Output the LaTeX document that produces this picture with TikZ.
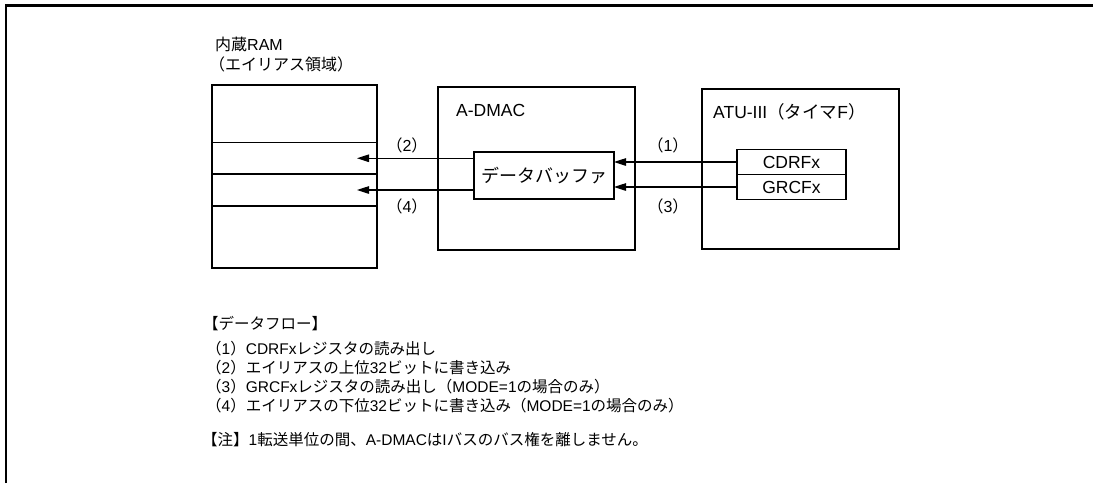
\documentclass[tikz,border=0pt]{standalone}
\usepackage{fontspec}
\setmainfont{Liberation Sans}
\newfontfamily\jpfont{Noto Sans CJK JP}
\newcommand\jp[1]{{\jpfont #1}}
\usetikzlibrary{positioning,arrows.meta}
\tikzset{
  >={Triangle[length=12pt,width=7.5pt]},
  block/.style={draw,line width=2.4pt,inner sep=0pt,outer sep=0pt},
  cell/.style={draw,line width=1.8pt,minimum width=165pt,inner sep=0pt,outer sep=0pt},
  inbox/.style={draw,line width=1.2pt,inner sep=0pt,outer sep=0pt},
  reg/.style={inbox,minimum width=109pt,minimum height=25pt,font=\fontsize{17.5}{17.5}\selectfont},
  flow/.style={->,line width=1.1pt},
  boxlbl/.style={inner sep=0pt,font=\fontsize{17.5}{17.5}\selectfont},
  numlbl/.style={inner sep=0pt,font=\fontsize{16}{16}\selectfont},
  txt/.style={inner sep=0pt,anchor=west,font=\fontsize{15.5}{15.5}\selectfont},
}

\begin{document}
\begin{tikzpicture}[x=1pt,y=-1pt]
  \useasboundingbox (0,0) rectangle (1093,483);
  \draw[line width=2.5pt] (6,483) -- (6,5.3) -- (1093,5.3);

  % RAM (alias area)
  \node[txt,font=\fontsize{16}{16}\selectfont] (ramname) at (215,44) {\jp{内蔵}RAM};
  \node[txt,font=\fontsize{16}{16}\selectfont] (ramsub)  at (209,64) {\jp{（エイリアス領域）}};
  \node[cell,minimum height=57.5pt,anchor=north west] (ramtop) at (212,85) {};
  \node[cell,minimum height=31.5pt,below=0pt of ramtop] (ramhi) {};
  \node[cell,minimum height=32pt,below=0pt of ramhi]    (ramlo) {};
  \node[cell,minimum height=62pt,below=0pt of ramlo]    (rambot) {};
  \draw[line width=2.4pt] (ramtop.north west) rectangle (rambot.south east);

  % A-DMAC
  \node[block,minimum width=197pt,minimum height=163pt] (dmac) at (536.5,168.5) {};
  \node[boxlbl,anchor=west] (dmacname) at (456,110) {A-DMAC};
  \node[inbox,minimum width=140pt,minimum height=47pt,
        font=\fontsize{18}{18}\selectfont] (buf) at (544,175.5) {\jp{データバッファ}};

  % ATU-III
  \node[block,minimum width=197pt,minimum height=160pt] (atu) at (800.5,169) {};
  \node[boxlbl,anchor=west] (atuname) at (713,112) {ATU-III\jp{（タイマ}F\jp{）}};
  \node[reg]                  (cdrf) at (791.5,162) {CDRFx};
  \node[reg,below=0pt of cdrf] (grcf) {GRCFx};

  % transfers
  \draw[flow] (cdrf.west) -- (cdrf.west -| buf.east);
  \draw[flow] (grcf.west) -- (grcf.west -| buf.east);
  \draw[flow] (buf.west |- ramhi.center) -- ([xshift=-20pt]ramhi.east);
  \draw[flow] (buf.west |- ramlo.center) -- ([xshift=-20pt]ramlo.east);
  \node[numlbl] (n1) at (668,145) {\jp{（}1\jp{）}};
  \node[numlbl] (n2) at (407,145) {\jp{（}2\jp{）}};
  \node[numlbl] (n3) at (668,206) {\jp{（}3\jp{）}};
  \node[numlbl] (n4) at (407,206) {\jp{（}4\jp{）}};

  % data flow legend
  \node[txt] (flowhead) at (203,324) {\jp{【データフロー】}};
  \node[txt] (flow1) at (206,349) {\jp{（}1\jp{）}CDRFx\jp{レジスタの読み出し}};
  \node[txt] (flow2) at (206,368) {\jp{（}2\jp{）エイリアスの上位}32\jp{ビットに書き込み}};
  \node[txt] (flow3) at (206,387) {\jp{（}3\jp{）}GRCFx\jp{レジスタの読み出し（}MODE=1\jp{の場合のみ）}};
  \node[txt] (flow4) at (206,406) {\jp{（}4\jp{）エイリアスの下位}32\jp{ビットに書き込み（}MODE=1\jp{の場合のみ）}};
  \node[txt] (note)  at (202,440) {\jp{【注】}1\jp{転送単位の間、}A-DMAC\jp{は}I\jp{バスのバス権を離しません。}};
\end{tikzpicture}
\end{document}
